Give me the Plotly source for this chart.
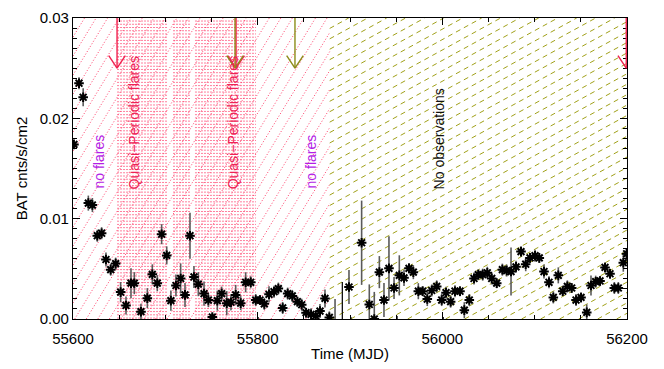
import math
import plotly.graph_objects as go

# ---------------- data ----------------
mjd = [55601, 55606.5, 55611, 55616.6, 55621, 55626.3, 55631, 55635.7, 55640.8, 55646.2,
       55651.6, 55657.4, 55662.8, 55666.4, 55673.6, 55680.5, 55685.9, 55691.3, 55696, 55701.5,
       55706, 55711.5, 55716.6, 55721.3, 55726.7, 55731, 55735.7, 55741.9, 55746.6, 55750.9,
       55756.3, 55761, 55766.5, 55771.1, 55776.2, 55781.6, 55787, 55792.5, 55797.9, 55802.5,
       55807.2, 55812.3, 55817.7, 55822.4, 55827.1, 55832.5, 55837.5, 55843, 55847.7, 55852.4,
       55857.8, 55862.9, 55867.5, 55872.9, 55877.6, 55883.8, 55898.9, 55912.6, 55920.9, 55926.3,
       55931.8, 55936.8, 55942.2, 55947.7, 55953.4, 55958.5, 55963.9, 55968.6, 55974, 55978.7,
       55983.7, 55988.5, 55993.9, 55999.3, 56004, 56009, 56013.7, 56019.1, 56023.8, 56029.2,
       56034.3, 56038.9, 56043.7, 56048.7, 56053.5, 56058.9, 56065, 56069.7, 56074.4, 56079.8,
       56085.2, 56090.3, 56095, 56100.4, 56105, 56110.1, 56115.5, 56120.2, 56125.6, 56130.4,
       56135.4, 56140.1, 56144.8, 56150.2, 56156.4, 56161, 56166.1, 56170.8, 56176.2, 56181.6,
       56186.3, 56190.6, 56196, 56199.6]
rate = [0.0174, 0.0235, 0.0221, 0.01155, 0.01136, 0.0083, 0.00855, 0.00593, 0.00492, 0.00552,
        0.00268, 0.00135, 0.00357, 0.00357, 0.00073, 0.00208, 0.00445, 0.00357, 0.00845, 0.00634,
        0.00183, 0.00334, 0.00404, 0.0024, 0.0083, 0.00419, 0.00347, 0.00253, 0.00189, 0.0002,
        0.00183, 0.00253, 0.00158, 0.00167, 0.0024, 0.00158, 0.00366, 0.00366, 0.00189, 0.00189,
        0.00151, 0.00246, 0.00272, 0.00303, 0.0011, 0.00253, 0.0023, 0.00173, 0.00142, 0.00063,
        0.00047, 0.00031, 0.00079, 0.00205, 0.00016, -0.0006, 0.00319, 0.0076, 0.00145, 0.0000,
        0.00467, 0.00189, 0.00505, 0.00309, 0.00435, 0.0041, 0.00505, 0.00467, 0.00277, 0.00277,
        0.00199, 0.00284, 0.00325, 0.00189, 0.00262, 0.00173, 0.00277, 0.00277, 0.00088, 0.00189,
        0.00404, 0.00442, 0.00442, 0.00461, 0.00404, 0.00357, 0.00492, 0.00483, 0.00473, 0.0052,
        0.00672, 0.00546, 0.00609, 0.00631, 0.00609, 0.00473, 0.00366, 0.00215, 0.00435, 0.00277,
        0.00325, 0.00309, 0.00189, 0.00215, 0.00066, 0.00334, 0.00372, 0.00379, 0.00514, 0.00451,
        0.00309, 0.00309, 0.00561, 0.0065]
err = [0.0004, 0.0006, 0.0009, 0.00075, 0.0007, 0.0006, 0.0006, 0.0007, 0.0006, 0.0006,
       0.001, 0.0009, 0.0015, 0.0011, 0.0008, 0.001, 0.001, 0.0008, 0.001, 0.0009,
       0.001, 0.0011, 0.0015, 0.0012, 0.0023, 0.0011, 0.0012, 0.0012, 0.0007, 0.0004,
       0.001, 0.0007, 0.0012, 0.0008, 0.001, 0.0007, 0.001, 0.0006, 0.0006, 0.0005,
       0.0006, 0.0008, 0.0006, 0.0006, 0.0006, 0.0006, 0.0006, 0.0005, 0.0006, 0.0005,
       0.0006, 0.0004, 0.0007, 0.0009, 0.0006, 0.0026, 0.0017, 0.0042, 0.002, 0.0027,
       0.0016, 0.0017, 0.0032, 0.0011, 0.002, 0.0008, 0.0005, 0.0007, 0.0008, 0.0005,
       0.0007, 0.0006, 0.0006, 0.0006, 0.0006, 0.0006, 0.0006, 0.0005, 0.0008, 0.0006,
       0.0006, 0.0005, 0.0006, 0.0006, 0.0006, 0.0005, 0.0006, 0.0006, 0.0024, 0.0006,
       0.0005, 0.0007, 0.0005, 0.0006, 0.0005, 0.0007, 0.0006, 0.0006, 0.0008, 0.0005,
       0.0006, 0.0005, 0.0006, 0.0005, 0.0008, 0.001, 0.0006, 0.0005, 0.0005, 0.0005,
       0.0006, 0.0006, 0.0009, 0.0005]

# bins whose value lies below zero (only the error bar shows)
neg_mjd = [55800.5, 55891.7, 55901, 55951, 56001]
neg_rate = [-0.0007, -0.0012, -0.0008, -0.0008, -0.0008]
neg_err = [0.0009, 0.0049, 0.0010, 0.0011, 0.0010]

# shaded intervals (MJD)
no_flare_span = [55600, 55878]
qpf_blocks = [[55647.7, 55701.8], [55708.3, 55726.7], [55732.1, 55798.2]]
no_obs_span = [55878, 56200]
red_arrows = [55647.7, 55776.6, 56199.2]
olive_arrows = [55775.5, 55840.4]
arrow_top, arrow_tip = 0.0300, 0.0250

x_tickvals = [55600, 55800, 56000, 56200]

labels = [
    ("no flares", 55628.2, 0.0157, "#b41ee6"),
    ("Quasi\u2212Periodic flares", 55666.1, 0.0195, "#ee2255"),
    ("Quasi\u2212Periodic flares", 55773.3, 0.0195, "#ee2255"),
    ("no flares", 55858.8, 0.0157, "#b41ee6"),
    ("No observations", 55996.4, 0.0179, "#111111"),
]

# ---------------- geometry ----------------
W, H = 664, 369
ML, MR, MT, MB = 73, 37, 9, 43
X_RANGE = [55600, 56200]
Y_RANGE = [0.0, 0.03]
PW, PH = W - ML - MR, H - MT - MB
XS = (X_RANGE[1] - X_RANGE[0]) / PW   # MJD per pixel
YS = (Y_RANGE[1] - Y_RANGE[0]) / PH   # flux per pixel


def px_x(d):
    return (d - X_RANGE[0]) / XS


def d_x(p):
    return X_RANGE[0] + p * XS


def d_y(p):
    return Y_RANGE[0] + p * YS


def diag_hatch(x0, x1, angle_deg, spacing):
    a, b = px_x(x0), px_x(x1)
    t = math.tan(math.radians(angle_deg))
    hs = spacing / math.sin(math.radians(angle_deg))
    xs, ys = [], []
    c = a - PH / t
    while c < b:
        ylo = max(0.0, (a - c) * t)
        yhi = min(PH, (b - c) * t)
        if yhi > ylo:
            xs += [d_x(c + ylo / t), d_x(c + yhi / t), None]
            ys += [d_y(ylo), d_y(yhi), None]
        c += hs
    return xs, ys


def horiz_hatch(blocks, spacing):
    xs, ys = [], []
    for x0, x1 in blocks:
        p = 1.0
        while p < PH:
            xs += [x0, x1, None]
            ys += [d_y(p), d_y(p), None]
            p += spacing
    return xs, ys


fig = go.Figure()

hx, hy = diag_hatch(no_flare_span[0], no_flare_span[1], 60, 10)
fig.add_trace(go.Scatter(x=hx, y=hy, mode="lines", hoverinfo="skip",
                         line=dict(color="rgba(255,30,80,0.85)", width=1, dash="1px,2px")))

qx, qy = horiz_hatch(qpf_blocks, 3.4)
fig.add_trace(go.Scatter(x=qx, y=qy, mode="lines", hoverinfo="skip",
                         line=dict(color="rgba(255,40,90,0.6)", width=1, dash="2px,1px")))

ox, oy = diag_hatch(no_obs_span[0], no_obs_span[1], 30, 9.5)
fig.add_trace(go.Scatter(x=ox, y=oy, mode="lines", hoverinfo="skip",
                         line=dict(color="rgba(150,150,0,0.9)", width=1, dash="5px,4px")))

# negative bins: error bars only
fig.add_trace(go.Scatter(x=neg_mjd, y=neg_rate, mode="markers", hoverinfo="skip",
                         marker=dict(size=1, color="rgba(0,0,0,0)"),
                         error_y=dict(type="data", array=neg_err, color="#111111",
                                      thickness=1.3, width=0)))

fig.add_trace(go.Scatter(x=mjd, y=rate, mode="markers",
                         marker=dict(symbol="asterisk-open", size=8, color="black",
                                     line=dict(color="black", width=2)),
                         error_y=dict(type="data", array=err, color="#5a5a5a",
                                      thickness=1.6, width=0)))

shapes = []
hdx = 8.3 * XS
hdy = 13.3 * YS


def arrow(xv, color):
    out = [dict(type="line", xref="x", yref="y", x0=xv, x1=xv, y0=arrow_top, y1=arrow_tip,
                line=dict(color=color, width=1.4))]
    out.append(dict(type="line", xref="x", yref="y", x0=xv - hdx, x1=xv, y0=arrow_tip + hdy,
                    y1=arrow_tip, line=dict(color=color, width=1.4)))
    out.append(dict(type="line", xref="x", yref="y", x0=xv + hdx, x1=xv, y0=arrow_tip + hdy,
                    y1=arrow_tip, line=dict(color=color, width=1.4)))
    return out


for xv in red_arrows:
    shapes += arrow(xv, "#f0204e")
for xv in olive_arrows:
    shapes += arrow(xv, "#8c8c18")

annotations = [dict(text=t, x=x, y=y, xref="x", yref="y", showarrow=False, textangle=-90,
                    font=dict(size=14, color=c, family="Liberation Sans"),
                    xanchor="center", yanchor="middle") for t, x, y, c in labels]

axis_common = dict(showgrid=False, zeroline=False, showline=True, linecolor="black",
                   linewidth=1.3, mirror="ticks", ticks="inside", tickcolor="black",
                   tickwidth=1.2, tickfont=dict(size=15, color="black"))

fig.update_layout(
    width=W, height=H,
    margin=dict(l=ML, r=MR, t=MT, b=MB, pad=0),
    paper_bgcolor="white", plot_bgcolor="white",
    showlegend=False,
    font=dict(family="Liberation Sans", color="black"),
    shapes=shapes, annotations=annotations,
    xaxis=dict(range=X_RANGE, tickmode="array", tickvals=x_tickvals,
               ticktext=[str(v) for v in x_tickvals], ticklen=7,
               minor=dict(dtick=50, tick0=55600, ticks="inside", ticklen=4, tickcolor="black"),
               ticklabelstandoff=6,
               title=dict(text="Time (MJD)", font=dict(size=15), standoff=2),
               **axis_common),
    yaxis=dict(range=Y_RANGE, tick0=0, dtick=0.01, tickformat=".2f", ticklen=7,
               minor=dict(dtick=0.001, tick0=0, ticks="inside", ticklen=4, tickcolor="black"),
               title=dict(text="BAT cnts/s/cm2", font=dict(size=15), standoff=8),
               **axis_common),
)

fig.write_html("out.html")
